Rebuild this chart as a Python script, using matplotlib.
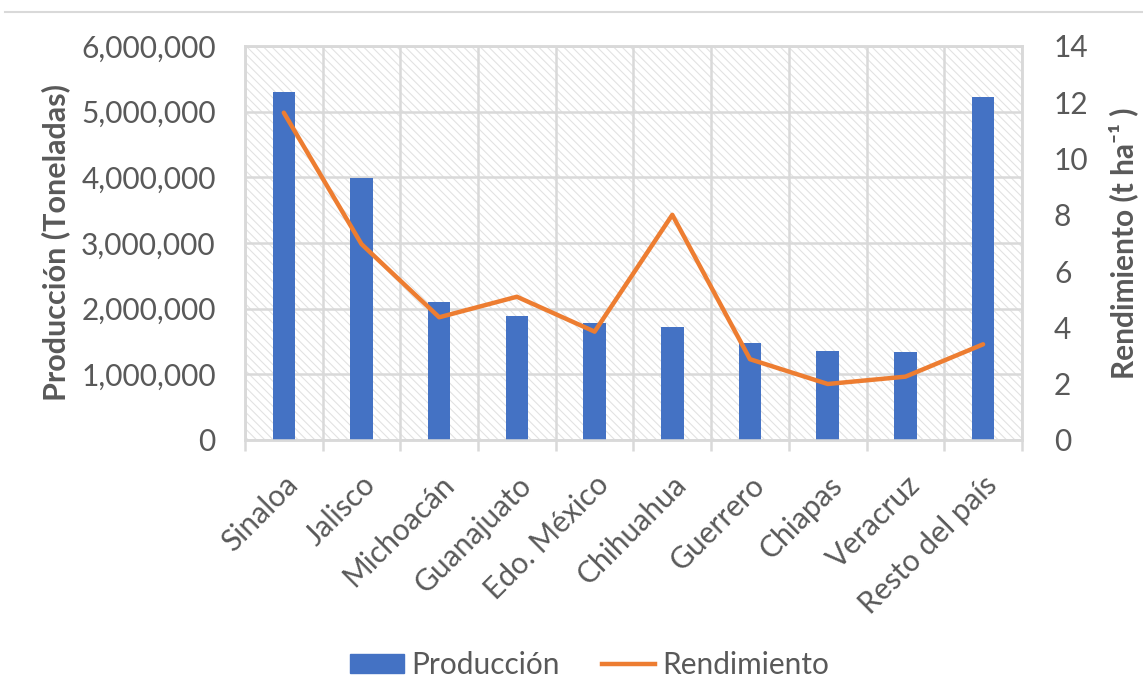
import matplotlib
matplotlib.use("Agg")
import matplotlib.pyplot as plt
import matplotlib.patches as mpatches
from matplotlib.lines import Line2D
from matplotlib.ticker import FuncFormatter, FixedLocator
import numpy as np

plt.rcParams['font.family'] = ['Lato', 'DejaVu Sans']

estados = ['Sinaloa', 'Jalisco', 'Michoacán', 'Guanajuato', 'Edo. México',
           'Chihuahua', 'Guerrero', 'Chiapas', 'Veracruz', 'Resto del país']
produccion = [5300000, 3985000, 2097000, 1888000, 1777000,
              1716000, 1472000, 1360000, 1340000, 5220000]
rendimiento = [11.63, 6.96, 4.36, 5.09, 3.85, 8.0, 2.87, 1.99, 2.25, 3.40]

azul = '#4472C4'
naranja = '#ED7D31'
gris = '#595959'
rejilla = '#D9D9D9'

fig = plt.figure(figsize=(11.43, 6.81), dpi=100)
ax = fig.add_axes([0.2143, 0.3539, 0.6798, 0.5786])
ax2 = ax.twinx()

x = np.arange(len(estados))
ax.set_xlim(-0.5, len(estados) - 0.5)
ax.set_ylim(0, 6000000)
ax2.set_ylim(0, 14)

# fondo rayado del area de trazado
plt.rcParams['hatch.color'] = '#E2E2E2'
plt.rcParams['hatch.linewidth'] = 0.8
fondo = mpatches.Rectangle((0, 0), 1, 1, transform=ax.transAxes, facecolor='white',
                           edgecolor='#E2E2E2', hatch='\\\\\\\\', lw=0, zorder=0)
ax.add_patch(fondo)

ax.set_yticks(np.arange(0, 6000001, 1000000))
ax.yaxis.set_major_formatter(FuncFormatter(lambda v, p: f'{int(v):,}'))
ax.grid(axis='y', color=rejilla, lw=1.8, zorder=1)
ax.xaxis.set_minor_locator(FixedLocator(np.arange(-0.5, len(estados), 1.0)))
ax.grid(axis='x', which='minor', color=rejilla, lw=1.8, zorder=1)
ax.set_axisbelow(True)

ax.bar(x, produccion, width=0.29, color=azul, zorder=3)
ax2.plot(x, rendimiento, color=naranja, lw=3.2, solid_joinstyle='round',
         solid_capstyle='round', zorder=4)

ax.set_xticks(x)
ax.set_xticklabels(estados, rotation=45, ha='right', rotation_mode='anchor',
                   fontsize=21.5, color=gris)
ax.tick_params(axis='x', which='major', length=0, pad=22)
ax.tick_params(axis='x', which='minor', length=8, width=1.8, color=rejilla)
ax.tick_params(axis='y', length=0, pad=21, labelsize=21.5, labelcolor=gris)
ax2.set_yticks(np.arange(0, 15, 2))
ax2.tick_params(axis='y', length=0, pad=23, labelsize=21.5, labelcolor=gris)

for a in (ax, ax2):
    for s in a.spines.values():
        s.set_color(rejilla)
        s.set_linewidth(1.8)

ax.set_ylabel('Producción (Toneladas)', fontsize=22, fontweight='bold', color=gris)
ax.yaxis.set_label_coords(-0.2252, 0.5)
ax2.set_ylabel('Rendimiento (t ha⁻¹ )', fontsize=21.5, fontweight='bold', color=gris,
               labelpad=14)

handles = [mpatches.Patch(color=azul, label='Producción'),
           Line2D([0], [0], color=naranja, lw=3.2, label='Rendimiento')]
fig.legend(handles=handles, loc='center', bbox_to_anchor=(0.516, 0.0235), ncol=2,
           frameon=False, fontsize=21.5, labelcolor=gris, handlelength=1.8,
           handleheight=0.65, columnspacing=1.4, handletextpad=0.25)

# borde superior del grafico
fig.add_artist(Line2D([0.004, 1.0], [0.9825, 0.9825], transform=fig.transFigure,
                      color='#D9D9D9', lw=1.5))

fig.savefig('out.png', dpi=100)
